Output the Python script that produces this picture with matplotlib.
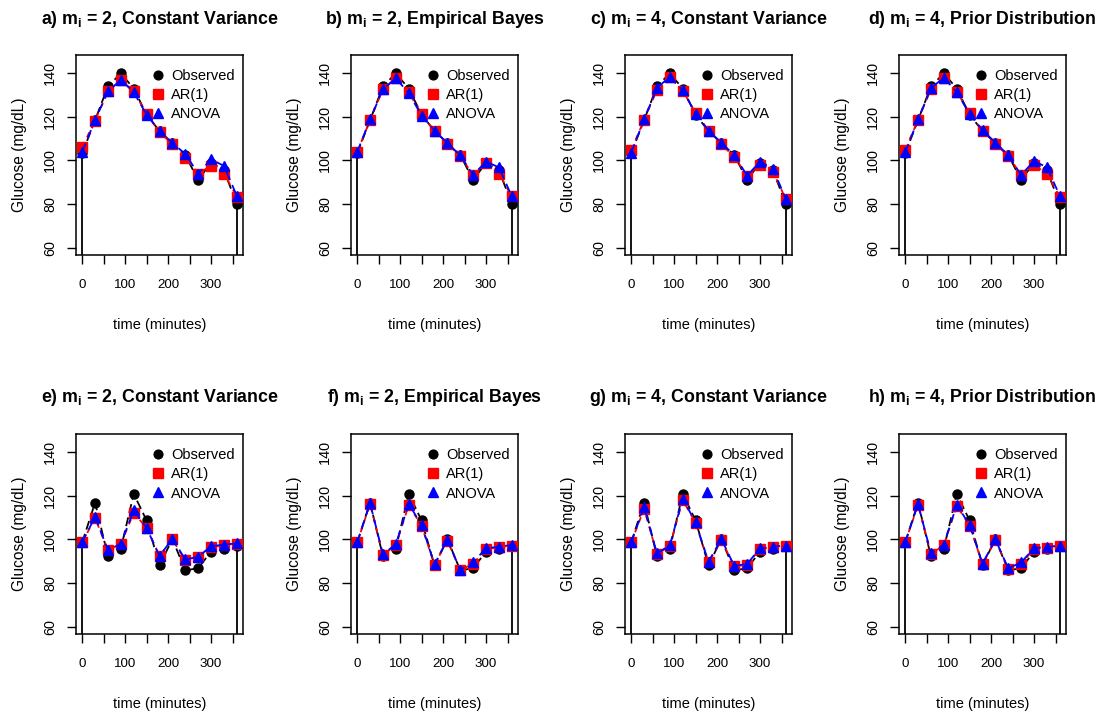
import matplotlib
matplotlib.use("Agg")
import matplotlib.pyplot as plt
from matplotlib.lines import Line2D

plt.rcParams['font.family'] = ['Liberation Sans', 'DejaVu Sans']
plt.rcParams['mathtext.fontset'] = 'custom'
plt.rcParams['mathtext.rm'] = 'Liberation Sans:bold'
plt.rcParams['mathtext.it'] = 'Liberation Sans:bold'
plt.rcParams['mathtext.bf'] = 'Liberation Sans:bold'

time = [0, 30, 60, 90, 120, 150, 180, 210, 240, 270, 300, 330, 360]

obs_top = [103.2, 118.5, 134.0, 140.0, 133.0, 121.0, 113.5, 108.0, 102.5, 91.0, 99.0, 95.5, 80.0]
obs_bot = [98.6, 116.9, 92.2, 95.8, 120.9, 108.7, 88.1, 100.2, 85.8, 86.8, 94.4, 95.6, 96.8]

ar_a = [106.2, 118.3, 131.7, 137.0, 131.7, 121.3, 113.1, 107.4, 101.3, 94.0, 97.5, 94.0, 83.4]
ar_b = [103.9, 118.5, 132.7, 137.7, 131.2, 121.3, 113.4, 107.7, 102.0, 93.3, 99.0, 94.0, 83.5]
ar_c = [104.8, 118.5, 132.4, 138.2, 132.0, 121.8, 113.7, 107.4, 101.6, 93.0, 98.0, 94.8, 82.3]
ar_d = [104.9, 118.6, 132.7, 138.0, 131.6, 121.7, 113.6, 107.5, 102.1, 93.3, 98.0, 93.8, 83.4]
an_a = [103.9, 118.5, 131.7, 137.0, 131.3, 121.0, 113.7, 108.0, 103.0, 94.0, 100.5, 97.5, 83.8]
an_b = [103.9, 118.8, 132.7, 137.7, 130.9, 120.6, 113.7, 108.0, 102.3, 93.3, 99.5, 96.8, 83.5]
an_c = [103.6, 118.8, 133.2, 138.5, 132.2, 121.5, 113.7, 108.1, 102.4, 93.0, 99.5, 96.3, 82.3]
an_d = [103.7, 118.8, 133.2, 138.0, 131.4, 121.2, 113.9, 108.2, 102.4, 93.3, 99.8, 96.8, 83.8]

ar_e = [98.6, 109.8, 95.1, 98.0, 112.2, 105.3, 92.6, 100.0, 90.4, 92.0, 96.6, 97.3, 97.8]
ar_f = [98.6, 116.3, 92.8, 97.5, 115.8, 106.2, 88.4, 99.4, 85.9, 88.9, 95.7, 96.4, 97.2]
ar_g = [98.6, 114.0, 93.4, 97.0, 118.1, 107.5, 89.5, 99.8, 87.6, 88.4, 95.6, 96.5, 96.9]
ar_h = [98.6, 115.9, 93.3, 97.4, 115.4, 106.4, 88.7, 99.7, 86.4, 88.8, 95.7, 96.2, 96.9]
an_e = [98.6, 110.4, 95.1, 98.0, 113.3, 105.3, 92.3, 100.4, 90.8, 92.0, 96.9, 97.6, 98.2]
an_f = [98.6, 116.6, 93.2, 97.8, 116.3, 106.6, 88.6, 99.8, 86.0, 89.5, 96.0, 96.6, 97.5]
an_g = [98.6, 114.8, 93.6, 97.3, 118.7, 107.8, 89.8, 100.2, 87.8, 88.8, 95.9, 96.7, 97.2]
an_h = [98.6, 116.2, 93.6, 97.6, 115.8, 106.7, 88.9, 100.0, 86.7, 89.5, 96.0, 96.5, 97.2]

titles = [
    r"a) m$_\mathrm{i}$ = 2, Constant Variance",
    r"b) m$_\mathrm{i}$ = 2, Empirical Bayes",
    r"c) m$_\mathrm{i}$ = 4, Constant Variance",
    r"d) m$_\mathrm{i}$ = 4, Prior Distribution",
    r"e) m$_\mathrm{i}$ = 2, Constant Variance",
    r"f) m$_\mathrm{i}$ = 2, Empirical Bayes",
    r"g) m$_\mathrm{i}$ = 4, Constant Variance",
    r"h) m$_\mathrm{i}$ = 4, Prior Distribution",
]
obs_list = [obs_top] * 4 + [obs_bot] * 4
ar_list = [ar_a, ar_b, ar_c, ar_d, ar_e, ar_f, ar_g, ar_h]
an_list = [an_a, an_b, an_c, an_d, an_e, an_f, an_g, an_h]

xticks = [0, 50, 100, 150, 200, 250, 300, 350]
xticklabels = ["0", "", "100", "", "200", "", "300", ""]
yticks = [60, 80, 100, 120, 140]
legend_labels = ["Observed", "AR(1)", "ANOVA"]

W, H = 1107, 716
fig = plt.figure(figsize=(W / 100, H / 100), dpi=100)

lefts = [76, 351, 625, 899]
tops = [55, 434]
aw, ah = 167, 200

xlim = (-14.4, 374.4)
ylim = (56.6, 148.4)

for i in range(8):
    r, c = divmod(i, 4)
    l = lefts[c]
    t = tops[r]
    ax = fig.add_axes([l / W, (H - t - ah) / H, aw / W, ah / H])
    obs = obs_list[i]
    ar = ar_list[i]
    an = an_list[i]
    ax.vlines([time[0], time[-1]], ylim[0], [obs[0], obs[-1]], color='black', lw=1.3, zorder=1)
    ax.plot(time, obs, color='black', lw=1.3, ls=(0, (5, 2.5)), marker='o', ms=6.5,
            mfc='black', mec='black', zorder=2)
    ax.plot(time, ar, color='red', lw=1.3, ls=(0, (3, 3)), marker='s', ms=6.8,
            mfc='red', mec='red', zorder=3)
    ax.plot(time, an, color='blue', lw=1.3, ls=(0, (5, 3)), marker='^', ms=7.5,
            mfc='blue', mec='blue', zorder=4)
    ax.set_xlim(*xlim)
    ax.set_ylim(*ylim)
    ax.set_xticks(xticks)
    ax.set_xticklabels(xticklabels, fontsize=9.6)
    ax.set_yticks(yticks)
    ax.set_yticklabels([str(v) for v in yticks], fontsize=10.4, rotation=90, va='center')
    ax.tick_params(axis='both', direction='out', length=6.5, width=1.0, color='black')
    ax.tick_params(axis='x', pad=10.5)
    ax.tick_params(axis='y', pad=7)
    for s in ax.spines.values():
        s.set_linewidth(1.1)
    ax.set_xlabel("time (minutes)", fontsize=10.5, labelpad=20)
    ax.set_ylabel("Glucose (mg/dL)", fontsize=11.2, labelpad=12)
    ax.text(0.5, 1.18, titles[i], transform=ax.transAxes, ha='center', va='center',
            fontsize=12.8, fontweight='bold')
    handles = [
        Line2D([], [], ls='none', marker='o', ms=6.3, mfc='black', mec='black'),
        Line2D([], [], ls='none', marker='s', ms=6.8, mfc='red', mec='red'),
        Line2D([], [], ls='none', marker='^', ms=7.3, mfc='blue', mec='blue'),
    ]
    ax.legend(handles, legend_labels, loc='upper left', bbox_to_anchor=(0.454, 0.93),
              frameon=False, fontsize=10.5, handlelength=0.8, handletextpad=0.5,
              borderpad=0, borderaxespad=0, labelspacing=0.36)

fig.savefig("out.png", dpi=100)
